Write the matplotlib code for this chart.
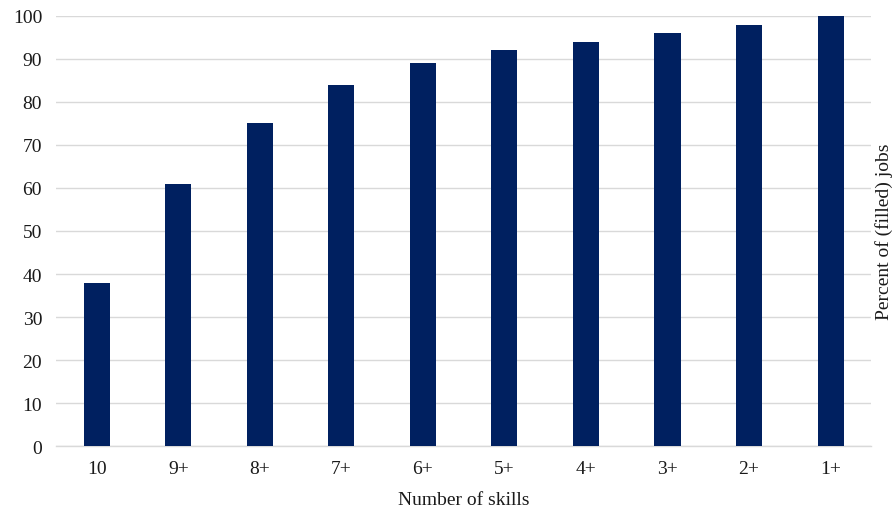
import matplotlib
matplotlib.use('Agg')
import matplotlib.pyplot as plt

plt.rcParams['font.family'] = ['Liberation Serif', 'DejaVu Serif']

# ---- data ----
SKILLS = ['10', '9+', '8+', '7+', '6+', '5+', '4+', '3+', '2+', '1+']
PCT_JOBS = [38, 61, 75, 84, 89, 92, 94, 96, 98, 100]

BAR_COLOR = '#002060'
GRID_COLOR = '#d9d9d9'
TEXT_COLOR = '#1a1a1a'

fig = plt.figure(figsize=(8.96, 5.10), dpi=100)
ax = fig.add_axes([0.0625, 0.1235, 0.910, 0.8432])

x = range(len(SKILLS))
ax.bar(x, PCT_JOBS, width=0.32, color=BAR_COLOR, zorder=3)

ax.set_xlim(-0.5, len(SKILLS) - 0.5)
ax.set_ylim(0, 100)
ax.set_yticks(range(0, 101, 10))
ax.set_xticks(list(x))
ax.set_xticklabels(SKILLS)
ax.tick_params(axis='both', length=0, labelsize=14, colors=TEXT_COLOR)
ax.tick_params(axis='x', pad=10)
ax.tick_params(axis='y', pad=10)

ax.grid(axis='y', color=GRID_COLOR, linewidth=1.0, zorder=0)
for side in ['top', 'left', 'right']:
    ax.spines[side].set_visible(False)
ax.spines['bottom'].set_color(GRID_COLOR)
ax.spines['bottom'].set_linewidth(1.0)

ax.set_xlabel('Number of skills', fontsize=14, color=TEXT_COLOR, labelpad=10)
ax.yaxis.set_label_position('right')
ax.set_ylabel('Percent of (filled) jobs', fontsize=14, color=TEXT_COLOR,
              labelpad=3)

fig.savefig('out.png', dpi=100)
